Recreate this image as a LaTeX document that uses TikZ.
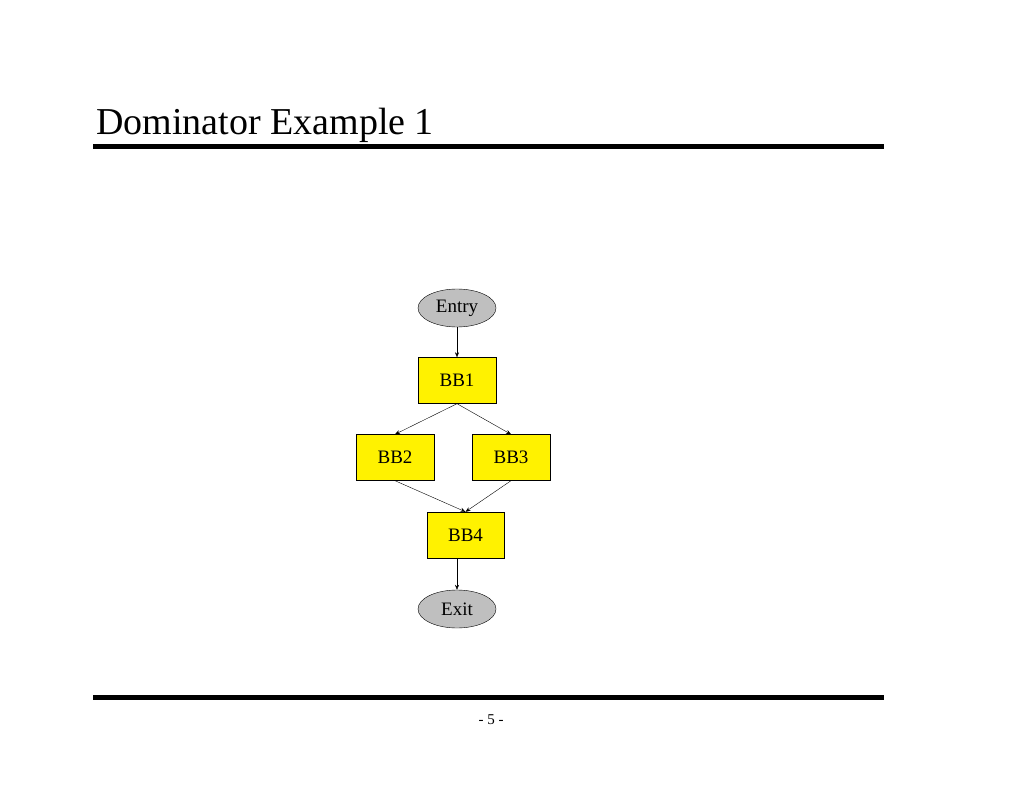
\documentclass[tikz,border=0pt]{standalone}
\usepackage{fontspec}
\setmainfont{Liberation Serif}
\usetikzlibrary{shapes.geometric,arrows.meta}
\begin{document}
\begin{tikzpicture}[x=1pt,y=-1pt,
 bb/.style={draw,fill=yellow,minimum width=78pt,minimum height=46pt,font=\fontsize{19}{22}\selectfont,inner sep=0pt},
 ov/.style={draw,ellipse,fill=black!25,minimum width=78pt,minimum height=38pt,font=\fontsize{19}{22}\selectfont,inner sep=0pt},
 ar/.style={-{Stealth[length=5pt,width=4pt]}}]
\useasboundingbox (0,0) rectangle (1024,791);
\node[anchor=base west,font=\fontsize{38}{44}\selectfont,inner sep=0pt] (title) at (96,135) {Dominator Example 1};
\draw[line width=5pt] (93,147) -- (884,147);
\draw[line width=5pt] (93,697) -- (884,697);
\node[font=\fontsize{15}{18}\selectfont] (pg) at (491,720) {- 5 -};
\node[ov] (entry) at (457,308) {Entry};
\node[bb] (bb1) at (457,380.5) {BB1};
\node[bb] (bb2) at (395,457.5) {BB2};
\node[bb] (bb3) at (511,457.5) {BB3};
\node[bb,minimum width=77pt] (bb4) at (465.5,535) {BB4};
\node[ov] (exit) at (457,609) {Exit};
\draw[ar] (entry) -- (entry.south |- bb1.north);
\draw[ar] (bb1.south) -- (bb2.north);
\draw[ar] (bb1.south) -- (bb3.north);
\draw[ar] (bb2.south) -- (bb4.north);
\draw[ar] (bb3.south) -- (bb4.north);
\draw[ar] (bb4.south -| exit.north) -- (exit.north);
\end{tikzpicture}
\end{document}
